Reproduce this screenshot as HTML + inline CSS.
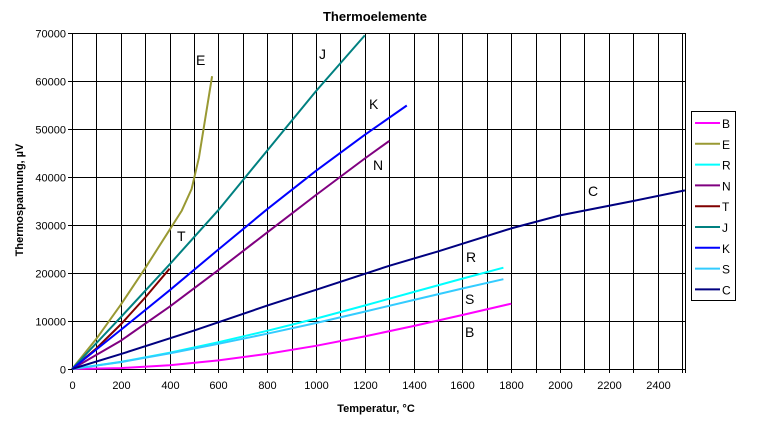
<!DOCTYPE html>
<html><head><meta charset="utf-8"><style>
body{margin:0;background:#fff;}
svg{display:block;font-family:"Liberation Sans",Arial,sans-serif;}
</style></head><body>
<svg id="s" width="760" height="430" xmlns="http://www.w3.org/2000/svg">
<text x="375" y="21" text-anchor="middle" font-size="13" font-weight="bold">Thermoelemente</text>
<text x="376" y="412" text-anchor="middle" font-size="11" font-weight="bold">Temperatur, °C</text>
<text transform="translate(23,200) rotate(-90)" text-anchor="middle" font-size="11" font-weight="bold">Thermospannung, µV</text>
<g id="grid"></g>
<g id="curves" fill="none" stroke-width="2" stroke-linejoin="round"></g>
<g font-size="14">
<text x="196" y="65">E</text><text x="319" y="59">J</text><text x="369" y="109">K</text>
<text x="373" y="170">N</text><text x="177" y="241">T</text><text x="588" y="196">C</text>
<text x="466" y="262">R</text><text x="465" y="304">S</text><text x="465" y="337">B</text>
</g>
<rect x="691.5" y="111.5" width="44" height="189" fill="#fff" stroke="#000"/>
<g id="leg" font-size="12"></g>
</svg>
<script>
const X=t=>72+t*0.244, Y=v=>369-v*0.0048;
const ns="http://www.w3.org/2000/svg";
function el(p,n,a,txt){const e=document.createElementNS(ns,n);for(const k in a)e.setAttribute(k,a[k]);if(txt!==undefined)e.textContent=String(txt);document.getElementById(p).appendChild(e);}
for(let t=0;t<=2500;t+=100){const x=Math.round(X(t))+.5;el("grid","line",{x1:x,y1:33,x2:x,y2:373,stroke:"#000","stroke-width":1});
 if(t%200==0)el("grid","text",{x:x,y:389,"text-anchor":"middle","font-size":"11"},t);}
el("grid","line",{x1:685.5,y1:33,x2:685.5,y2:373,stroke:"#000"});
for(let v=0;v<=70000;v+=10000){const y=Math.round(Y(v))+.5;el("grid","line",{x1:68,y1:y,x2:685,y2:y,stroke:"#000"});
 el("grid","text",{x:66,y:y+4,"text-anchor":"end","font-size":"11"},v);}
const S={
B:["#ff00ff",[[0,0],[200,180],[400,790],[600,1790],[800,3150],[1000,4830],[1200,6790],[1400,8960],[1600,11260],[1800,13600]]],
E:["#999933",[[0,0],[100,6300],[200,13400],[300,21000],[400,29000],[450,33000],[490,37500],[520,44000],[574,61000]]],
R:["#00ffff",[[0,0],[200,1470],[400,3400],[600,5580],[800,7950],[1000,10500],[1200,13230],[1400,16040],[1600,18840],[1768,21100]]],
N:["#800080",[[0,0],[200,5900],[400,12970],[600,20600],[800,28450],[1000,36250],[1200,43850],[1300,47500]]],
T:["#800000",[[0,0],[100,4300],[200,9300],[300,14900],[400,20900]]],
J:["#008080",[[0,0],[200,10800],[400,21800],[600,33100],[800,45500],[1000,57900],[1200,69500]]],
K:["#0000ff",[[0,0],[200,8140],[400,16400],[600,24900],[800,33300],[1000,41300],[1200,48800],[1372,54900]]],
S:["#33ccff",[[0,0],[200,1440],[400,3260],[600,5240],[800,7350],[1000,9590],[1200,11950],[1400,14370],[1600,16770],[1768,18700]]],
C:["#000080",[[0,0],[200,3100],[500,8000],[800,13200],[1000,16500],[1300,21500],[1500,24500],[1800,29300],[2000,32000],[2300,35000],[2512,37200]]]};
let i=0;for(const k in S){const [c,p]=S[k];
 el("curves","polyline",{points:p.map(q=>X(q[0]).toFixed(1)+","+Y(q[1]).toFixed(1)).join(" "),stroke:c});
 const y=123+i*20.8;el("leg","line",{x1:695,y1:y,x2:720,y2:y,stroke:c,"stroke-width":2});
 el("leg","text",{x:722,y:y+5},k);i++;}
</script>
</body></html>
